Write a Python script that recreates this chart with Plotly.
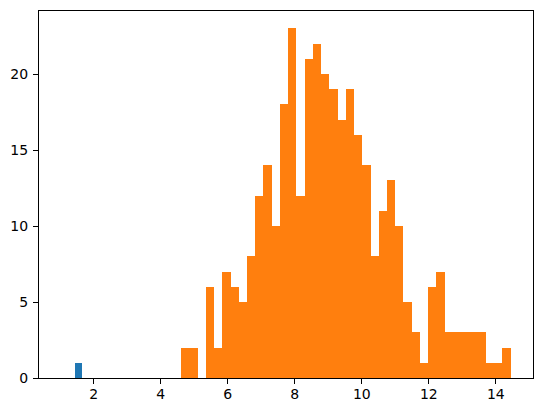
import plotly.graph_objects as go

# histogram counts
blue_bin_start = 1.435
blue_bin_width = 0.2
blue_counts = [1]

orange_bin_start = 4.607
orange_bin_width = 0.2458
orange_counts = [2, 2, 0, 6, 2, 7, 6, 5, 8, 12, 14, 10, 18, 23, 12, 21, 22, 20, 19, 17,
                 19, 16, 14, 8, 11, 13, 10, 5, 3, 1, 6, 7, 3, 3, 3, 3, 3, 1, 1, 2]

x_ticks = [2, 4, 6, 8, 10, 12, 14]
y_ticks = [0, 5, 10, 15, 20]


def centers(start, width, counts):
    return [start + width * (i + 0.5) for i in range(len(counts))]


fig = go.Figure()
fig.add_trace(go.Bar(x=centers(blue_bin_start, blue_bin_width, blue_counts), y=blue_counts,
                     width=blue_bin_width, marker=dict(color='#1f77b4', line=dict(width=0))))
fig.add_trace(go.Bar(x=centers(orange_bin_start, orange_bin_width, orange_counts), y=orange_counts,
                     width=orange_bin_width, marker=dict(color='#ff7f0e', line=dict(width=0))))

axis_style = dict(showgrid=False, zeroline=False, showline=True, mirror=True,
                  linecolor='black', linewidth=1.1, ticks='outside', ticklen=5,
                  tickwidth=1.1, tickcolor='black',
                  tickfont=dict(family='DejaVu Sans', size=14, color='black'))

# page body adds an 8px offset, so the figure is sized to fit inside it
fig.update_layout(
    width=535, height=405,
    margin=dict(l=29, r=10, t=2, b=35),
    plot_bgcolor='white', paper_bgcolor='white',
    barmode='overlay', bargap=0, showlegend=False,
    xaxis=dict(range=[0.365, 15.11], tickvals=x_ticks, ticklabelstandoff=-2, **axis_style),
    yaxis=dict(range=[0, 24.15], tickvals=y_ticks, ticklabelstandoff=2, **axis_style),
)

fig.write_html("out.html")
